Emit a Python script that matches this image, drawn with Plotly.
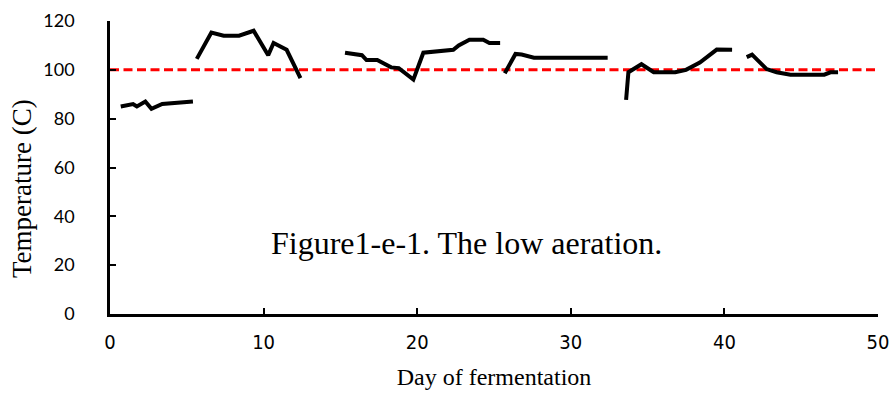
import plotly.graph_objects as go

# Daily temperature readings; None marks a break between recording runs
day = [0.7, 1.5, 1.75, 2.3, 2.7, 3.4, 5.4, None,
       5.65, 6.6, 7.4, 8.4, 9.35, 10.3, 10.65, 11.5, 12.4, None,
       15.3, 16.4, 16.7, 17.4, 18.3, 18.8, 19.75, 20.4, 22.35, 22.7, 23.4, 24.3, 24.7, 25.4, None,
       25.7, 26.4, 26.8, 27.6, 32.4, None,
       33.6, 33.75, 34.6, 35.4, 36.8, 37.5, 38.4, 39.5, 40.5, None,
       41.45, 41.8, 42.75, 43.4, 44.3, 46.5, 46.9, 47.4]
temperature = [85, 86, 85, 87, 84, 86, 87, None,
               104.5, 115.3, 114, 114, 116, 106, 111, 108.2, 96.6, None,
               107, 106, 104, 104, 101, 100.7, 96, 107, 108.2, 110, 112.3, 112.3, 111, 111, None,
               98.6, 106.5, 106.3, 105, 105, None,
               87.7, 99, 102.3, 99, 99, 100, 103, 108.3, 108.2, None,
               105.2, 106.2, 100.3, 99, 98, 98, 99, 99]

ref_day = [0, 50]
ref_temp = [100, 100]

x_ticks = [0, 10, 20, 30, 40, 50]
y_ticks = [0, 20, 40, 60, 80, 100, 120]

fig = go.Figure()
fig.add_trace(go.Scatter(x=ref_day, y=ref_temp, mode="lines", cliponaxis=False,
                         line=dict(color="#ff0000", width=3, dash="9px,4.5px"),
                         hoverinfo="skip"))
fig.add_trace(go.Scatter(x=day, y=temperature, mode="lines", connectgaps=False,
                         line=dict(color="black", width=4)))

fig.add_annotation(x=23.2, y=29, xref="x", yref="y", text="Figure1-e-1. The low aeration.",
                   showarrow=False,
                   font=dict(family="Liberation Serif", size=32, color="black"))

# Vertical axis title, placed by hand so it sits a little below the plot's middle
fig.add_annotation(x=-88 / 768, y=(314 - 189) / 293, xref="paper", yref="paper",
                   text="Temperature (C)", textangle=-90, showarrow=False,
                   xanchor="center", yanchor="middle",
                   font=dict(family="Liberation Serif", size=27, color="black"))

fig.update_layout(
    width=892, height=397,
    margin=dict(l=110, r=14, t=21, b=83),
    paper_bgcolor="white", plot_bgcolor="white",
    showlegend=False,
)
fig.update_xaxes(
    range=[0, 50], tickvals=x_ticks, ticks="inside", ticklen=6, tickwidth=2,
    tickcolor="black", showline=True, linecolor="black", linewidth=2.5,
    showgrid=False, zeroline=False, ticklabelstandoff=8, automargin=False,
    tickfont=dict(family="Liberation Sans Narrow, DejaVu Sans Condensed, sans-serif",
                  size=20, color="black"),
    title=dict(text="Day of fermentation", standoff=16,
               font=dict(family="Liberation Serif", size=24, color="black")),
)
fig.update_yaxes(
    range=[0, 120], tickvals=y_ticks, ticks="inside", ticklen=6, tickwidth=2,
    tickcolor="black", showline=True, linecolor="black", linewidth=2.5,
    showgrid=False, zeroline=False, ticklabelstandoff=29, automargin=False,
    tickfont=dict(family="Lato", size=18, color="black"),
)

fig.write_html("out.html")
